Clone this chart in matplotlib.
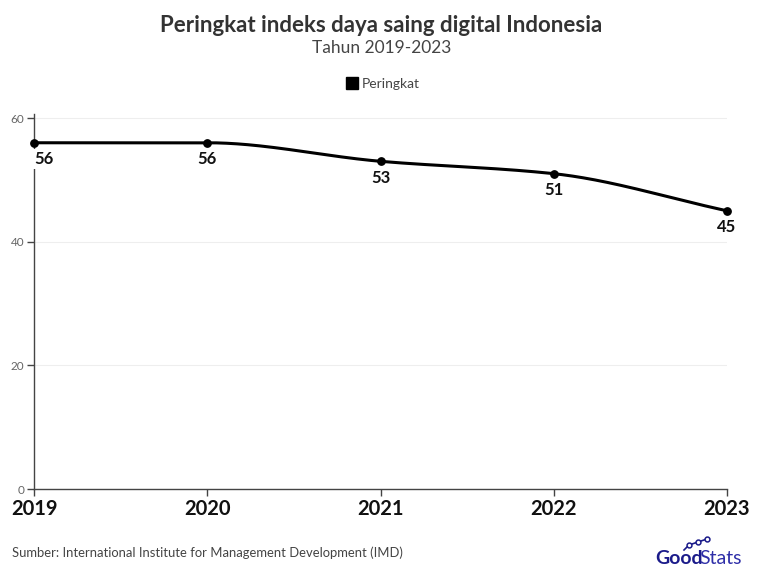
import matplotlib.pyplot as plt
import numpy as np

years = [2019, 2020, 2021, 2022, 2023]
rank = [56, 56, 53, 51, 45]
yticks = [0, 20, 40, 60]

plt.rcParams["font.family"] = ["Lato", "DejaVu Sans"]


def pchip(x, y, xs):
    # monotone cubic interpolation, similar to the smooth line in the original
    x = np.asarray(x, float)
    y = np.asarray(y, float)
    h = np.diff(x)
    d = np.diff(y) / h
    m = np.zeros_like(y)
    for k in range(1, len(y) - 1):
        if d[k - 1] * d[k] > 0:
            w1 = 2 * h[k] + h[k - 1]
            w2 = h[k] + 2 * h[k - 1]
            m[k] = (w1 + w2) / (w1 / d[k - 1] + w2 / d[k])
    m[0] = d[0]
    m[-1] = d[-1]
    out = np.empty_like(xs)
    for i, xv in enumerate(xs):
        k = min(np.searchsorted(x, xv, side="right") - 1, len(x) - 2)
        t = (xv - x[k]) / h[k]
        h00 = 2 * t**3 - 3 * t**2 + 1
        h10 = t**3 - 2 * t**2 + t
        h01 = -2 * t**3 + 3 * t**2
        h11 = t**3 - t**2
        out[i] = h00 * y[k] + h10 * h[k] * m[k] + h01 * y[k + 1] + h11 * h[k] * m[k + 1]
    return out


fig = plt.figure(figsize=(7.63, 5.79), dpi=100)
ax = fig.add_axes([0.0446, 0.1554, 0.9082, 0.6477])

xs = np.linspace(years[0], years[-1], 400)
ax.plot(xs, pchip(years, rank, xs), color="black", lw=2.2, zorder=3, clip_on=False)
ax.scatter(years, rank, color="black", s=28, zorder=4, clip_on=False)

for x, v in zip(years, rank):
    ax.annotate(str(v), xy=(x, v), xytext=(0, -6), textcoords="offset points",
                ha="left" if x == years[0] else "center", va="top",
                fontsize=12, fontweight="bold", color="#111111",
                bbox=dict(boxstyle="square,pad=0.1", fc="white", ec="none"),
                zorder=5)

ax.set_xlim(years[0], years[-1])
ax.set_ylim(0, 60.65)
ax.set_xticks(years)
ax.set_xticklabels([str(y) for y in years], fontsize=14.5, fontweight="bold", color="#111111")
ax.set_yticks(yticks)
ax.set_yticklabels([str(t) for t in yticks], fontsize=8.5, color="#666666")
ax.tick_params(axis="both", direction="out", length=5, width=1, color="#444444")
ax.tick_params(axis="x", pad=2)
ax.tick_params(axis="y", pad=2)
ax.grid(axis="y", color="#eeeeee", lw=0.8)
ax.set_axisbelow(True)
for s in ["top", "right"]:
    ax.spines[s].set_visible(False)
for s in ["left", "bottom"]:
    ax.spines[s].set_color("#444444")
    ax.spines[s].set_linewidth(1)

fig.text(0.5, 1 - 25 / 579, "Peringkat indeks daya saing digital Indonesia",
         ha="center", va="center", fontsize=16, fontweight="bold", color="#333333")
fig.text(0.5, 1 - 48 / 579, "Tahun 2019-2023", ha="center", va="center",
         fontsize=12.5, color="#444444")

# legend
ax.legend(handles=[plt.Line2D([], [], marker="s", ls="none", color="black", markersize=8)],
          labels=["Peringkat"], loc="center", bbox_to_anchor=(0.5, 1 - 84 / 579),
          bbox_transform=fig.transFigure, frameon=False, fontsize=10,
          handletextpad=0.1, handlelength=1.2, labelcolor="#444444")

fig.text(12 / 763, 1 - 553 / 579,
         "Sumber: International Institute for Management Development (IMD)",
         ha="left", va="center", fontsize=9.4, color="#444444")

# logo
fig.text(655 / 763, 1 - 558 / 579, "Good", ha="left", va="center",
         fontsize=14, fontweight="bold", color="#1b1b8a")
fig.text(699 / 763, 1 - 558 / 579, "Stats", ha="left", va="center",
         fontsize=14, color="#2e2ea8")
lx = np.array([684, 689, 698, 707]) / 763
ly = 1 - np.array([550, 545, 542, 539]) / 579
fig.add_artist(plt.Line2D(lx, ly, color="#1b1b8a", lw=1.2, markevery=[1, 2, 3],
                          marker="o", markersize=3.5,
                          markerfacecolor="white", markeredgewidth=1.1))

fig.savefig("out.png", dpi=100)
